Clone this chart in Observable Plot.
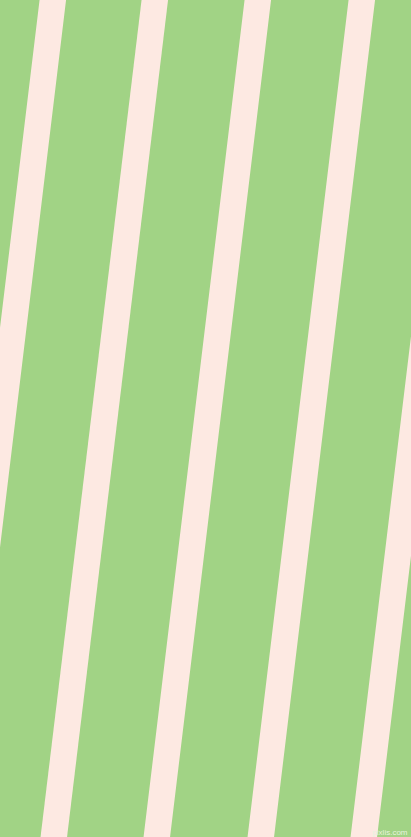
<!DOCTYPE html>
<html>
<head>
<meta charset="utf-8">
<script src="https://cdn.jsdelivr.net/npm/d3@7"></script>
<script src="https://cdn.jsdelivr.net/npm/@observablehq/plot@0.6"></script>
<style>
  html, body { margin: 0; padding: 0; background: #a1d385; overflow: hidden; }
  #chart svg { display: block; }
</style>
</head>
<body>
<div id="chart"></div>
<script>
// Stripe left edges (px in the 411x837 frame)
const stripeIds = ["s1", "s2", "s3", "s4", "s5"];
const leftEdgeTop = [39, 141, 244, 348, 451];     // at y = 0
const leftEdgeBottom = [-62, 40, 143, 247, 350];  // at y = 837
const stripeWidthX = 26.5;                         // horizontal width
const watermark = "pixlis.com";

const W = 411, H = 837;
const slopeAngle = Math.atan((leftEdgeTop[1] - leftEdgeBottom[1]) / H);

const stripes = stripeIds.map((id, i) => ({
  id,
  xTop: leftEdgeTop[i] + stripeWidthX / 2,
  xBottom: leftEdgeBottom[i] + stripeWidthX / 2
}));

const chart = Plot.plot({
  width: W,
  height: H,
  margin: 0,
  x: {domain: [0, W], range: [0, W], axis: null},
  y: {domain: [0, H], range: [0, H], axis: null},
  style: {background: "#a1d385"},
  marks: [
    Plot.link(stripes, {
      x1: "xTop", y1: 0, x2: "xBottom", y2: H,
      stroke: "#fde9e2",
      strokeWidth: stripeWidthX * Math.cos(slopeAngle),
      strokeLinecap: "square",
      clip: "frame"
    }),
    Plot.text([watermark], {
      text: d => d,
      frameAnchor: "bottom-right",
      dx: -4, dy: -3,
      fill: "#e6f4de",
      fontSize: 8,
      fontFamily: "Liberation Sans"
    })
  ]
});
document.getElementById("chart").append(chart);
</script>
</body>
</html>
